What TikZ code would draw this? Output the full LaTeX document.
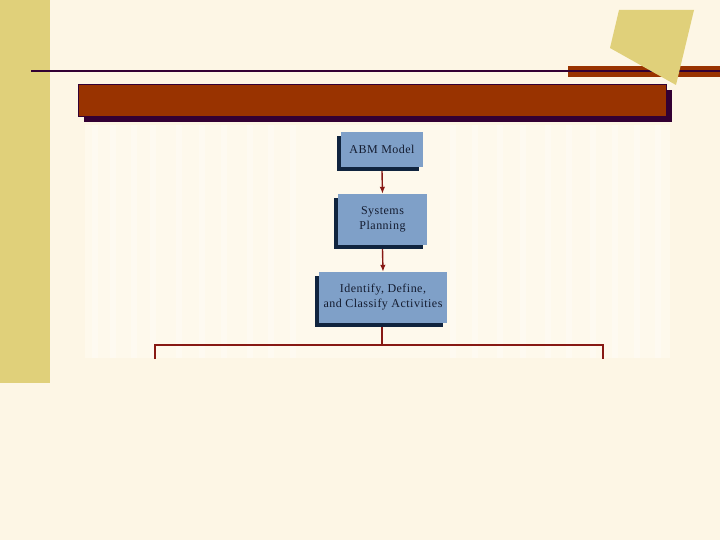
\documentclass[tikz,border=0pt]{standalone}
\usepackage{fontspec}
\newfontfamily\boxfont[LetterSpace=4]{Liberation Serif}
\usetikzlibrary{arrows.meta,shadows}
\definecolor{bgcream}{RGB}{253,246,229}
\definecolor{stripe}{RGB}{254,249,236}
\definecolor{sideyellow}{RGB}{224,208,122}
\definecolor{rust}{RGB}{153,51,0}
\definecolor{darkplum}{RGB}{51,0,51}
\definecolor{boxblue}{RGB}{127,160,200}
\definecolor{navyshadow}{RGB}{16,36,62}
\definecolor{textnavy}{RGB}{20,28,48}
\definecolor{linkred}{RGB}{135,25,20}
\tikzset{
  chartbox/.style={fill=boxblue, draw=none, text=textnavy,
    font=\boxfont\fontsize{12}{15}\selectfont, align=center, inner sep=0pt,
    drop shadow={shadow xshift=-4.5pt, shadow yshift=-4pt, opacity=1, fill=navyshadow}},
  link/.style={draw=linkred, line width=1.4pt},
  linkarrow/.style={link, -{Latex[length=7pt,width=5.5pt]}}
}
\begin{document}
\begin{tikzpicture}[x=1pt,y=-1pt]
\useasboundingbox (0,0) rectangle (720,540);
\fill[bgcream] (0,0) rectangle (720,540);
% faint chart backdrop with stripes
\fill[stripe] (85,125) rectangle (670,358);
\foreach \sx in {92,110,131,150,176,199,221,247,268,290,450,472,497,520,545,566,590,612,634,655}
  \fill[white,opacity=0.3] (\sx,125) rectangle ++(6,233);
% left yellow bar
\fill[sideyellow] (0,0) rectangle (50,383);
% top rule and right brown bar
\fill[rust] (568,66) rectangle (720,77);
\draw[darkplum, line width=2pt] (31,71) -- (720,71);
% yellow quadrilateral
\fill[sideyellow] (619,10) -- (694,10) -- (676,85) -- (610,48) -- cycle;
% title bar
\node[fill=rust, draw=darkplum, line width=0.6pt, minimum width=588pt, minimum height=32pt,
  inner sep=0pt, anchor=north west,
  drop shadow={shadow xshift=6pt, shadow yshift=-6pt, opacity=1, fill=darkplum}]
  (title) at (78,84) {};
% boxes
\node[chartbox, minimum width=82pt, minimum height=35pt] (abm) at (382,149.5) {ABM Model};
\node[chartbox, minimum width=89pt, minimum height=51pt] (sys) at (382.5,219.5) {Systems\\Planning};
\node[chartbox, minimum width=128pt, minimum height=51pt] (idc) at (383,297.5) {Identify, Define,\\and Classify Activities};
% connectors
\draw[linkarrow] ([yshift=-4pt]abm.south) -- (sys.north);
\draw[linkarrow] ([yshift=-4pt]sys.south) -- (idc.north);
\coordinate (junc) at (382,345);
\coordinate (lft) at (155,345);
\coordinate (rgt) at (603,345);
\coordinate (lftend) at (155,359);
\coordinate (rgtend) at (603,359);
\draw[link] ([xshift=-1pt,yshift=-4pt]idc.south) -- (junc);
\draw[link] (lftend) -- (lft) -- (rgt) -- (rgtend);
\end{tikzpicture}
\end{document}
